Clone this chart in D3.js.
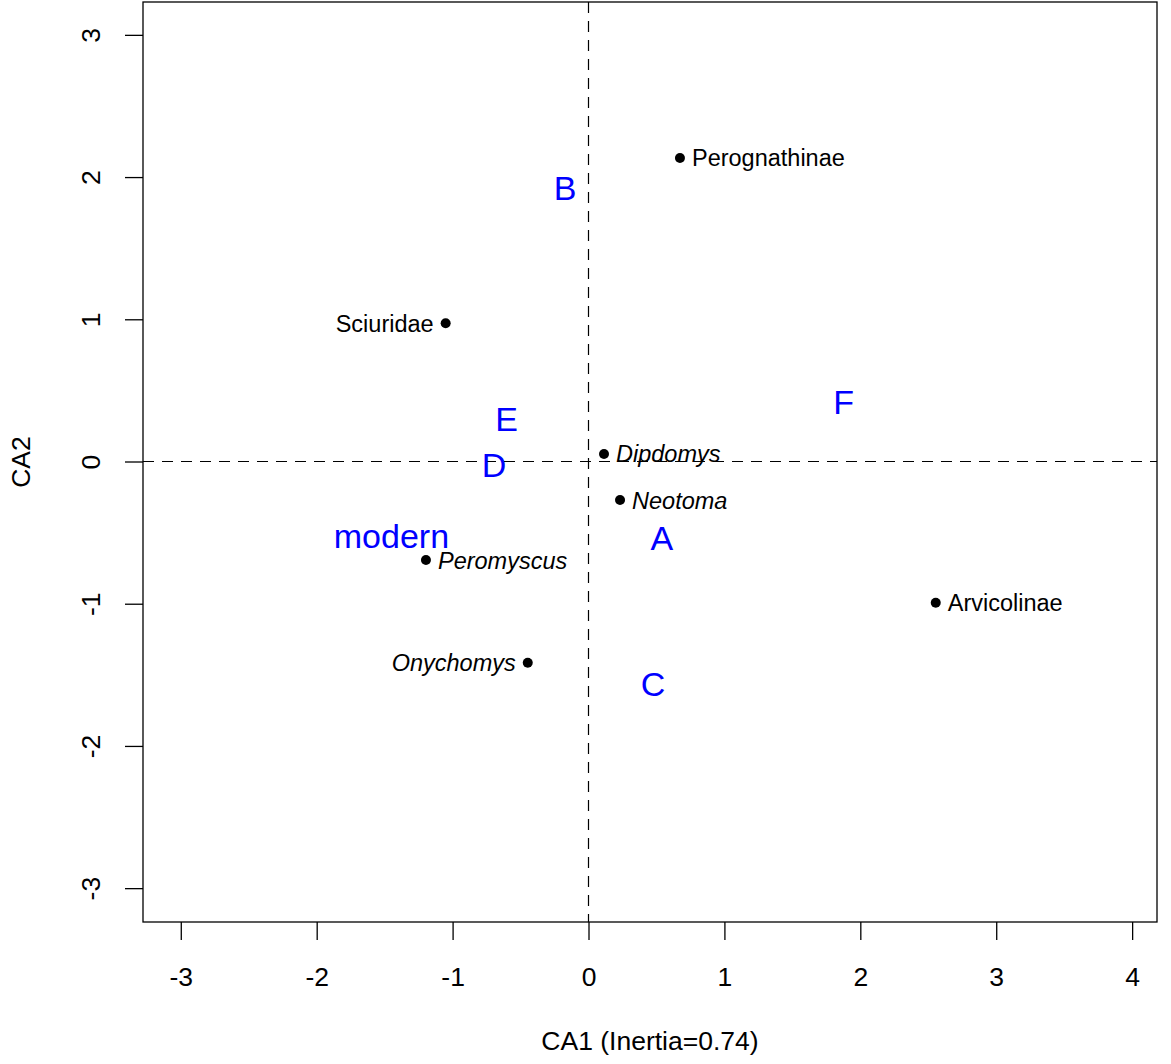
<!DOCTYPE html>
<html>
<head>
<meta charset="utf-8">
<script src="https://cdn.jsdelivr.net/npm/d3@7"></script>
<style>
  body { margin: 0; background: #fff; }
  svg { display: block; font-family: "Liberation Sans", Arial, sans-serif; }
</style>
</head>
<body>
<svg id="ca" width="1171" height="1064"></svg>
<script>
// --- Data ---
const speciesNames = ["Perognathinae", "Sciuridae", "Dipdomys", "Neotoma", "Peromyscus", "Onychomys", "Arvicolinae"];
const speciesCA1 = [0.673, -1.051, 0.114, 0.232, -1.196, -0.447, 2.555];
const speciesCA2 = [2.134, 0.972, 0.053, -0.271, -0.693, -1.415, -0.993];
const speciesItalic = [false, false, true, true, true, true, false];
const speciesSide = ["right", "left", "right", "right", "right", "left", "right"];

const siteNames = ["A", "B", "C", "D", "E", "F", "modern"];
const siteCA1 = [0.539, -0.173, 0.475, -0.695, -0.602, 1.878, -1.45];
const siteCA2 = [-0.538, 1.923, -1.565, -0.025, 0.299, 0.422, -0.52];

const xTicks = [-3, -2, -1, 0, 1, 2, 3, 4];
const yTicks = [-3, -2, -1, 0, 1, 2, 3];
const xTitle = "CA1 (Inertia=0.74)";
const yTitle = "CA2";

// --- Set up ---
const svg = d3.select("#ca");
const box = { left: 143, right: 1157, top: 2, bottom: 922 };

// --- Scales ---
const x = d3.scaleLinear().domain([-3.278, 4.183]).range([box.left, box.right]);
const y = d3.scaleLinear().domain([-3.238, 3.231]).range([box.bottom, box.top]);

const axisFont = 26.5;
const labelFont = 23.5;
const siteFont = 34;

// --- Axes ---
const xAxis = svg.append("g")
  .attr("transform", `translate(0,${box.bottom})`)
  .call(d3.axisBottom(x).tickValues(xTicks).tickSize(18).tickPadding(0).tickFormat(d3.format("d")));
xAxis.select(".domain").remove();
xAxis.selectAll(".tick line").attr("stroke", "#000").attr("stroke-width", 1.3);
xAxis.selectAll(".tick text")
  .attr("y", 64).attr("dy", null)
  .attr("font-size", axisFont).attr("font-family", "Liberation Sans, Arial, sans-serif")
  .attr("fill", "#000")
  .text(d => d < 0 ? "-" + Math.abs(d) : d);

const yAxis = svg.append("g")
  .attr("transform", `translate(${box.left},0)`)
  .call(d3.axisLeft(y).tickValues(yTicks).tickSize(18).tickFormat(d3.format("d")));
yAxis.select(".domain").remove();
yAxis.selectAll(".tick line").attr("stroke", "#000").attr("stroke-width", 1.3);
yAxis.selectAll(".tick text")
  .attr("x", null).attr("dy", null)
  .attr("transform", "translate(-43,0) rotate(-90)")
  .attr("text-anchor", "middle")
  .attr("font-size", axisFont).attr("font-family", "Liberation Sans, Arial, sans-serif")
  .attr("fill", "#000")
  .text(d => d < 0 ? "-" + Math.abs(d) : d);

// --- Zero lines ---
svg.append("line")
  .attr("x1", box.left).attr("x2", box.right)
  .attr("y1", y(0)).attr("y2", y(0))
  .attr("stroke", "#000").attr("stroke-width", 1.2)
  .attr("stroke-dasharray", "11 8");
svg.append("line")
  .attr("x1", x(0)).attr("x2", x(0))
  .attr("y1", box.top).attr("y2", box.bottom)
  .attr("stroke", "#000").attr("stroke-width", 1.2)
  .attr("stroke-dasharray", "11 8");

// --- Species points and labels ---
const species = speciesNames.map((name, i) => ({
  name, ca1: speciesCA1[i], ca2: speciesCA2[i], italic: speciesItalic[i], side: speciesSide[i]
}));

svg.selectAll(".pt")
  .data(species)
  .join("circle")
  .attr("class", "pt")
  .attr("cx", d => x(d.ca1))
  .attr("cy", d => y(d.ca2))
  .attr("r", 5)
  .attr("fill", "#000");

svg.selectAll(".sp-label")
  .data(species)
  .join("text")
  .attr("class", "sp-label")
  .attr("x", d => x(d.ca1) + (d.side === "right" ? 12 : -12))
  .attr("y", d => y(d.ca2) + labelFont * 0.36)
  .attr("text-anchor", d => d.side === "right" ? "start" : "end")
  .attr("font-size", labelFont)
  .attr("font-style", d => d.italic ? "italic" : "normal")
  .attr("fill", "#000")
  .text(d => d.name);

// --- Site labels ---
const sites = siteNames.map((name, i) => ({ name, ca1: siteCA1[i], ca2: siteCA2[i] }));

svg.selectAll(".site-label")
  .data(sites)
  .join("text")
  .attr("class", "site-label")
  .attr("x", d => x(d.ca1))
  .attr("y", d => y(d.ca2) + siteFont * 0.36)
  .attr("text-anchor", "middle")
  .attr("font-size", siteFont)
  .attr("fill", "#0000ff")
  .text(d => d.name);

// --- Box ---
svg.append("rect")
  .attr("x", box.left).attr("y", box.top)
  .attr("width", box.right - box.left).attr("height", box.bottom - box.top)
  .attr("fill", "none").attr("stroke", "#000").attr("stroke-width", 1.3);

// --- Axis titles ---
svg.append("text")
  .attr("x", (box.left + box.right) / 2)
  .attr("y", 1050)
  .attr("text-anchor", "middle")
  .attr("font-size", axisFont)
  .text(xTitle);

svg.append("text")
  .attr("transform", `translate(30,${(box.top + box.bottom) / 2}) rotate(-90)`)
  .attr("text-anchor", "middle")
  .attr("font-size", axisFont)
  .text(yTitle);
</script>
</body>
</html>
